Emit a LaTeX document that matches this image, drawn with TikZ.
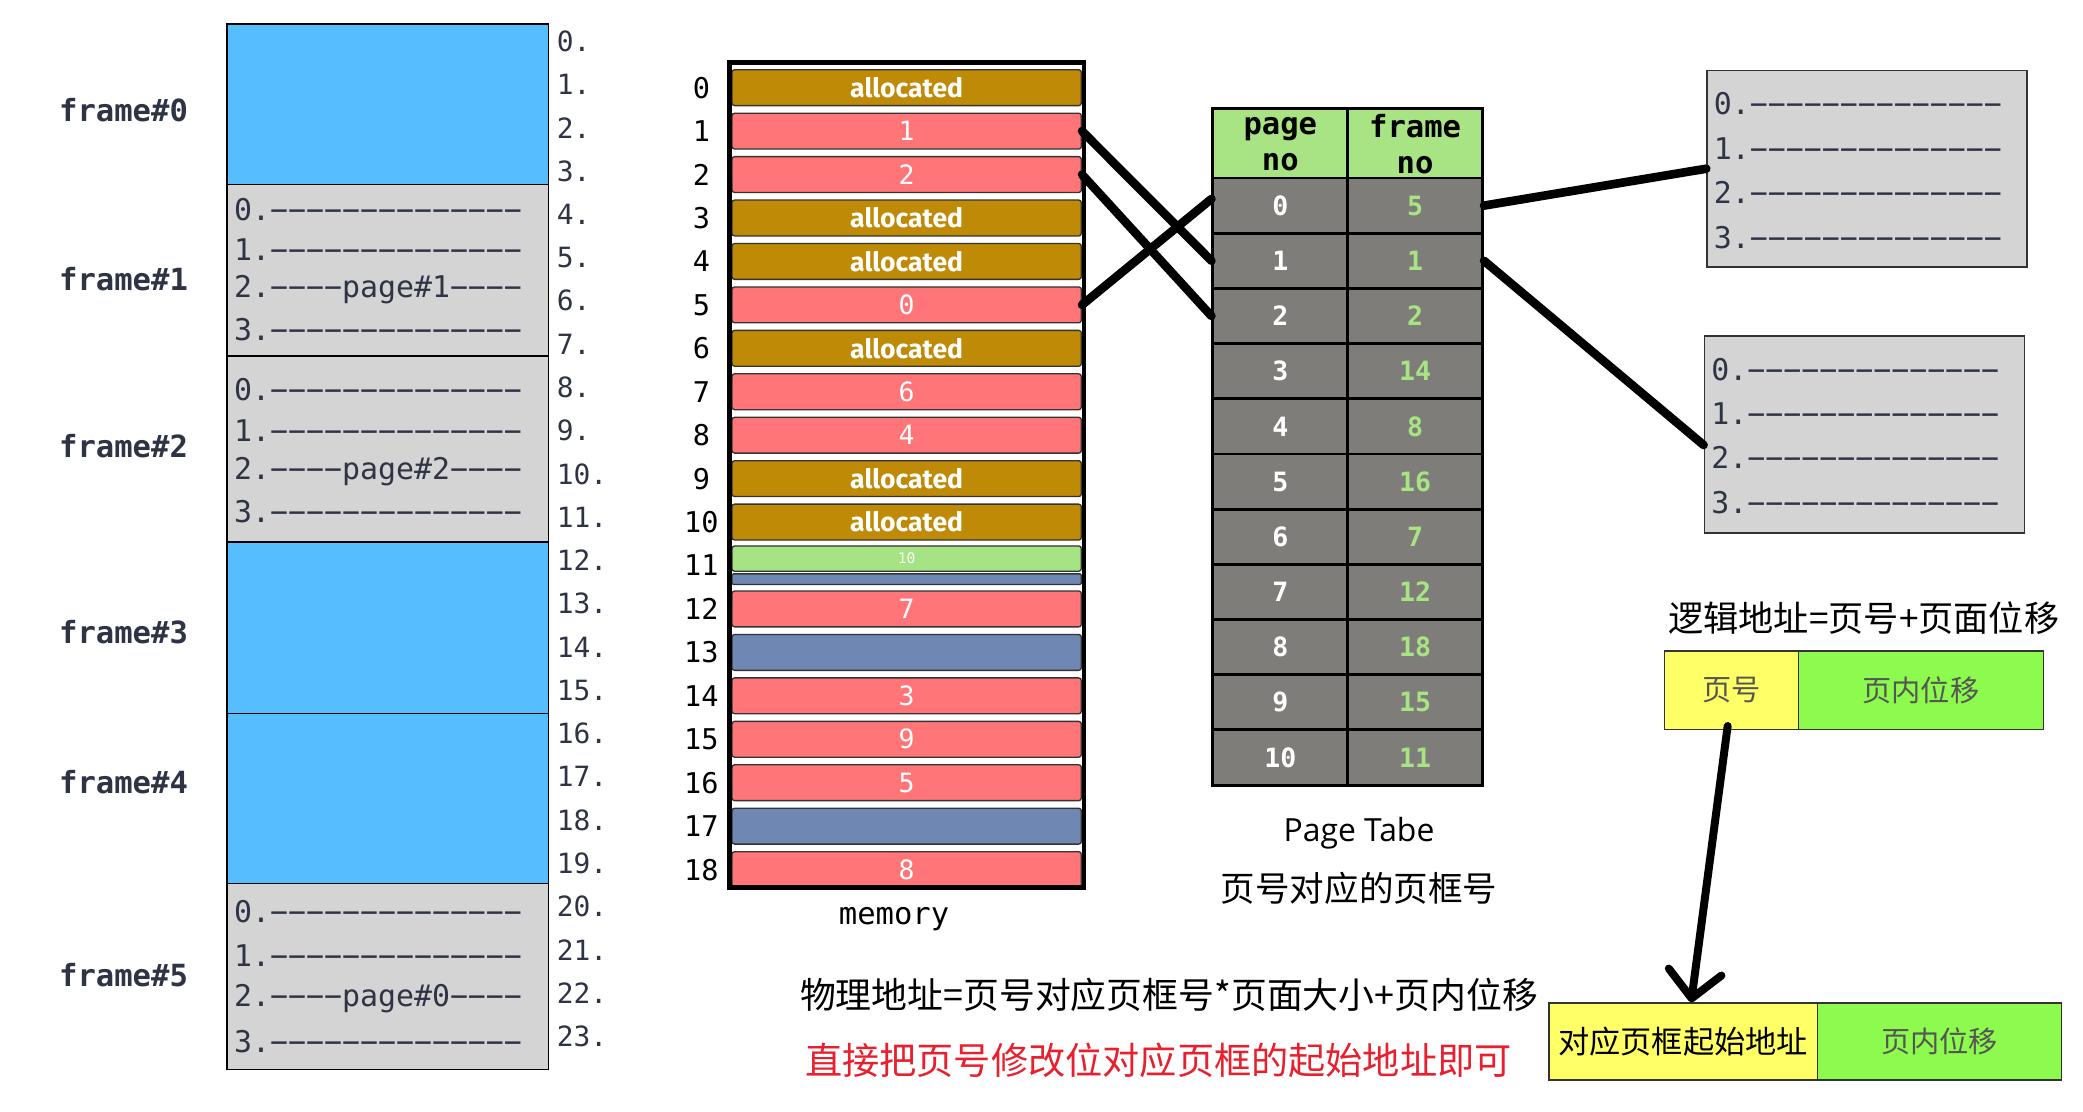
\documentclass[tikz,border=0pt]{standalone}
\usepackage{fontspec}
\setmainfont{Open Sans}
\setmonofont{DejaVu Sans Mono}
\newfontfamily\cjk{Noto Sans CJK SC}
\newfontfamily\hand{Fira Sans}
\usetikzlibrary{arrows.meta,calc}
\definecolor{fblue}{HTML}{57BEFD}
\definecolor{fgray}{HTML}{D4D4D4}
\definecolor{navy}{HTML}{2F3445}
\definecolor{allocC}{HTML}{BF8A05}
\definecolor{memred}{HTML}{FF7578}
\definecolor{memgreen}{HTML}{A6E384}
\definecolor{freeC}{HTML}{6F87B3}
\definecolor{ptgray}{HTML}{7F7D79}
\definecolor{ptgreen}{HTML}{A8E484}
\definecolor{yel}{HTML}{FFFF66}
\definecolor{grn}{HTML}{8CFB4E}
\definecolor{redtxt}{HTML}{E8202E}
\definecolor{boxtxt}{HTML}{555555}
\newcommand{\dfour}{−−−−}
\newcommand{\dfull}{\dfour\dfour\dfour−−}
\tikzset{
  fbox/.style={draw=black, line width=1.2pt, minimum width=242pt, inner sep=0pt},
  frlab/.style={font=\ttfamily\bfseries\fontsize{23}{26}\selectfont, text=navy},
  fline/.style={font=\ttfamily\fontsize{22.5}{26}\selectfont, text=navy, anchor=west, inner sep=0pt},
  addr/.style={font=\ttfamily\fontsize{21}{24}\selectfont, text=navy, anchor=west, inner sep=0pt},
  mbar/.style={draw=black!80, line width=1pt, rounded corners=2pt, minimum width=263pt, minimum height=27pt, inner sep=0pt, text=white},
  al/.style={fill=allocC, font=\hand\bfseries\fontsize{20}{22}\selectfont},
  pg/.style={fill=memred, font=\ttfamily\fontsize{20}{22}\selectfont},
  fr/.style={fill=freeC},
  idx/.style={font=\ttfamily\fontsize{21.5}{24}\selectfont, text=black},
  ptc/.style={draw=black, line width=2.2pt, fill=ptgray, minimum width=101.5pt, minimum height=41.545pt, inner sep=0pt, font=\ttfamily\bfseries\fontsize{20}{22}\selectfont},
  pth/.style={draw=black, line width=2.2pt, fill=ptgreen, minimum width=101.5pt, minimum height=54pt, inner sep=0pt, align=center, font=\ttfamily\bfseries\fontsize{23}{27.5}\selectfont},
  conn/.style={line width=6.5pt, line cap=round, black},
  rbox/.style={draw=black!80, line width=1.2pt, fill=fgray, minimum width=241pt, minimum height=148pt, inner sep=0pt},
  abox/.style={draw=black!80, line width=1pt, inner sep=0pt, minimum height=59pt},
  cjktxt/.style={font=\cjk\fontsize{#1}{#1}\selectfont},
}
\begin{document}
\begin{tikzpicture}[x=1pt,y=-1pt]
\useasboundingbox (0,0) rectangle (1568,837);

% ---- frames column
\node[fbox, fill=fblue, minimum height=121pt] (f0) at (292,78.5) {};
\node[fbox, fill=fgray, minimum height=129pt] (f1) at (292,203.5) {};
\node[fbox, fill=fgray, minimum height=140pt] (f2) at (292,338) {};
\node[fbox, fill=fblue, minimum height=129pt] (f3) at (292,472.5) {};
\node[fbox, fill=fblue, minimum height=128pt] (f4) at (292,601) {};
\node[fbox, fill=fgray, minimum height=140pt] (f5) at (292,735) {};

\node[frlab] (l0) at (93,83) {frame\#0};
\node[frlab] (l1) at (93,210) {frame\#1};
\node[frlab] (l2) at (93,336) {frame\#2};
\node[frlab] (l3) at (93,476) {frame\#3};
\node[frlab] (l4) at (93,589) {frame\#4};
\node[frlab] (l5) at (93,734) {frame\#5};

\node[fline] (a10) at (176,158) {0.\dfull};
\node[fline] (a11) at (176,188) {1.\dfull};
\node[fline] (a12) at (176,218) {2.\dfour page\#1\dfour};
\node[fline] (a13) at (176,248) {3.\dfull};
\node[fline] (a20) at (176,293) {0.\dfull};
\node[fline] (a21) at (176,324) {1.\dfull};
\node[fline] (a22) at (176,355) {2.\dfour page\#2\dfour};
\node[fline] (a23) at (176,385) {3.\dfull};
\node[fline] (a50) at (176,686) {0.\dfull};
\node[fline] (a51) at (176,719) {1.\dfull};
\node[fline] (a52) at (176,752) {2.\dfour page\#0\dfour};
\node[fline] (a53) at (176,784) {3.\dfull};

\foreach \k in {0,...,23} \node[addr] (n\k) at (419,{31+32.57*\k}) {\k.};

% ---- memory column
\foreach \i/\s/\t in {0/al/allocated,1/pg/1,2/pg/2,3/al/allocated,4/al/allocated,5/pg/0,6/al/allocated,7/pg/6,8/pg/4,9/al/allocated,10/al/allocated,12/pg/7,13/fr/,14/pg/3,15/pg/9,16/pg/5,17/fr/,18/pg/8}
  \node[mbar,\s] (m\i) at (682.5,{66+32.7*\i}) {\t};
\node[mbar, fill=memgreen, minimum height=19pt, font=\ttfamily\fontsize{11}{12}\selectfont] (m11) at (682.5,420.5) {10};
\node[mbar, fr, minimum height=8pt, rounded corners=1pt] (m11b) at (682.5,436) {};
\node[draw=black, line width=3.5pt, minimum width=267pt, minimum height=621pt, inner sep=0pt] (mem) at (682.5,357.5) {};
\foreach \i in {0,...,18} \node[idx] (i\i) at (528,{66+32.7*\i}) {\i};
\node[font=\ttfamily\fontsize{23}{26}\selectfont] (memlab) at (673,692) {memory};

% ---- page table
\node[pth] (hp) at (963.75,108.5) {page\\no};
\node[pth] (hf) at (1065.25,108.5) {frame\\no};
\foreach \i/\f in {0/5,1/1,2/2,3/14,4/8,5/16,6/7,7/12,8/18,9/15,10/11} {
  \node[ptc, text=white] (p\i) at (963.75,{134+41.545*(\i+0.5)}) {\i};
  \node[ptc, text=ptgreen] (q\i) at (1065.25,{134+41.545*(\i+0.5)}) {\f};
}
\node[font=\fontsize{24}{28}\selectfont] (ptlab) at (1023,627) {Page Tabe};
\node[cjktxt=26] (ptlab2) at (1023,669) {页号对应的页框号};

% ---- connectors memory -> page table
\draw[conn] (m1.east) -- (p1.west);
\draw[conn] (m2.east) -- (p2.west);
\draw[conn] (m5.east) -- ([yshift=5pt]p0.west);

% ---- right boxes
\node[rbox] (b1) at (1405.5,127) {};
\node[rbox] (b2) at (1403.5,327) {};
\node[fline] (c10) at (1290,78) {0.\dfull};
\node[fline] (c11) at (1290,112) {1.\dfull};
\node[fline] (c12) at (1290,145) {2.\dfull};
\node[fline] (c13) at (1290,179) {3.\dfull};
\node[fline] (c20) at (1288,278) {0.\dfull};
\node[fline] (c21) at (1288,311) {1.\dfull};
\node[fline] (c22) at (1288,344) {2.\dfull};
\node[fline] (c23) at (1288,378) {3.\dfull};
\draw[conn] (q0.east) -- (b1.west);
\draw[conn] (q1.east) -- ([yshift=-8pt]b2.west);

% ---- logical / physical address
\node[cjktxt=26.5] (logic) at (1403,465) {逻辑地址=页号+页面位移};
\node[abox, fill=yel, minimum width=101pt, cjktxt=22, text=boxtxt] (y1) at (1303.5,519.5) {页号};
\node[abox, fill=grn, minimum width=184pt, cjktxt=22, text=boxtxt] (g1) at (1446,519.5) {页内位移};
\node[abox, fill=yel, minimum width=202pt, minimum height=58pt, cjktxt=23.5] (y2) at (1267,784) {对应页框起始地址};
\node[abox, fill=grn, minimum width=184pt, minimum height=58pt, cjktxt=22, text=boxtxt] (g2) at (1460,784) {页内位移};
\draw[line width=6pt, line cap=round, -{Straight Barb[length=20pt,width=40pt,round]}]
  ([shift={(-3pt,3pt)}]y1.south) -- ([xshift=6pt]y2.north);

\node[cjktxt=27] (phys) at (880,749) {物理地址=页号对应页框号*页面大小+页内位移};
\node[cjktxt=28, text=redtxt] (note) at (872,798) {直接把页号修改位对应页框的起始地址即可};
\end{tikzpicture}
\end{document}
